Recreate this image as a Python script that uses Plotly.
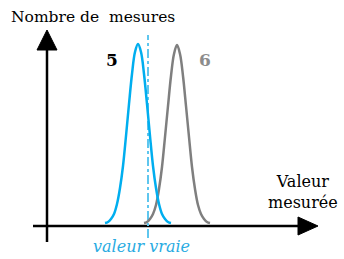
import plotly.graph_objects as go

blue_x = [58, 61, 64, 67, 70, 73, 76, 79, 82, 85, 88, 91, 94, 97, 100, 103, 106, 109, 112, 115, 118, 121, 124]
blue_y = [3, 4, 7, 12, 22, 38, 60, 90, 122, 152, 174, 182, 174, 152, 122, 90, 60, 38, 22, 12, 7, 4, 3]
gray_x = [97, 100, 103, 106, 109, 112, 115, 118, 121, 124, 127, 130, 133, 136, 139, 142, 145, 148, 151, 154, 157, 160, 163]
gray_y = [3, 4, 7, 12, 21, 37, 59, 89, 120, 150, 172, 181, 172, 150, 120, 89, 59, 37, 21, 12, 7, 4, 3]
true_value = 101
true_span = [-12, 191]

fig = go.Figure()

# axes
fig.add_trace(go.Scatter(x=[0, 0], y=[-16, 178], mode="lines",
                         line=dict(color="black", width=2.5), hoverinfo="skip"))
fig.add_trace(go.Scatter(x=[-14, 253], y=[0, 0], mode="lines",
                         line=dict(color="black", width=2.5), hoverinfo="skip"))

# true value line
fig.add_trace(go.Scatter(x=[true_value, true_value], y=true_span, mode="lines",
                         line=dict(color="#5EC6EE", width=2, dash="dashdot"), hoverinfo="skip"))

# curves
fig.add_trace(go.Scatter(x=gray_x, y=gray_y, mode="lines", line_shape="spline",
                         line=dict(color="#7F7F7F", width=2.5), hoverinfo="skip"))
fig.add_trace(go.Scatter(x=blue_x, y=blue_y, mode="lines", line_shape="spline",
                         line=dict(color="#00AEEF", width=2.5), hoverinfo="skip"))

# arrowheads
fig.add_shape(type="path", path="M -10 176 L 10 176 L 0 196 Z",
              fillcolor="black", line=dict(color="black", width=1))
fig.add_shape(type="path", path="M 251 9 L 251 -9 L 271 0 Z",
              fillcolor="black", line=dict(color="black", width=1))

serif = "DejaVu Serif"
fig.add_annotation(x=-38, y=209, text="Nombre de  mesures", showarrow=False, xanchor="left",
                   font=dict(family=serif, size=15.5, color="black"))
fig.add_annotation(x=65, y=166, text="<b>5</b>", showarrow=False,
                   font=dict(family=serif, size=17, color="black"))
fig.add_annotation(x=158, y=166, text="<b>6</b>", showarrow=False,
                   font=dict(family=serif, size=17, color="#8C8C8C"))
fig.add_annotation(x=256, y=34, text="Valeur<br>mesurée", showarrow=False,
                   font=dict(family=serif, size=16, color="black"))
fig.add_annotation(x=94, y=-20, text="<i>valeur vraie</i>", showarrow=False,
                   font=dict(family=serif, size=16, color="#29ABE2"))

fig.update_layout(
    width=344, height=259, margin=dict(l=0, r=0, t=0, b=0),
    paper_bgcolor="white", plot_bgcolor="white", showlegend=False,
    xaxis=dict(range=[-47, 297], visible=False, fixedrange=True),
    yaxis=dict(range=[-33, 226], visible=False, fixedrange=True),
)

fig.write_html("out.html", config={"displayModeBar": False},
               post_script="document.body.style.margin='0';")
